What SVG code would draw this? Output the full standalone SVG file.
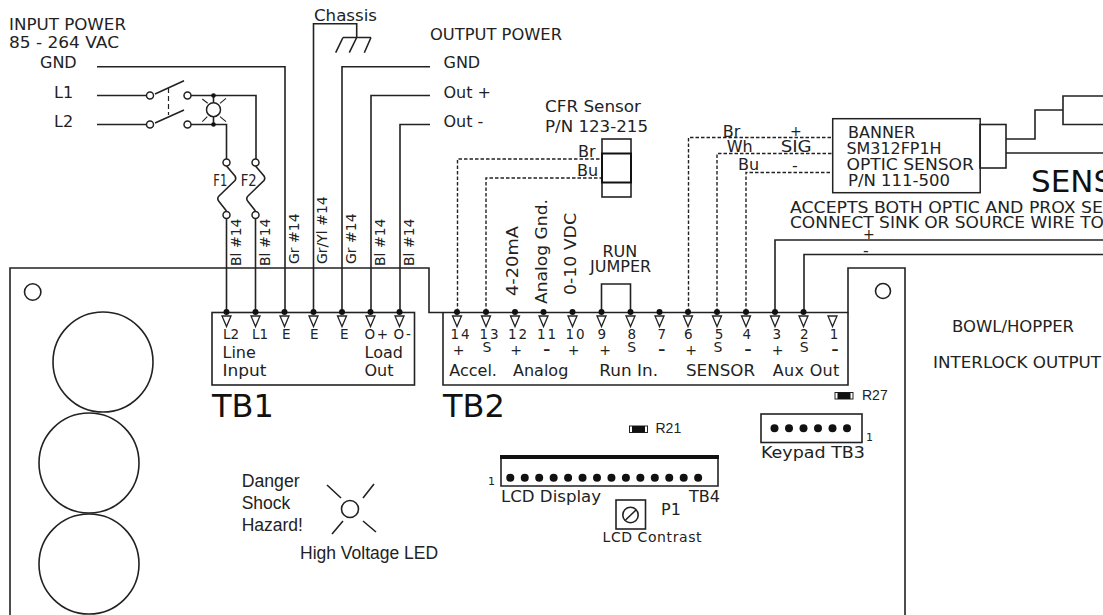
<svg xmlns="http://www.w3.org/2000/svg" width="1103" height="615" viewBox="0 0 1103 615">
<style>
text{font-family:"DejaVu Sans",Verdana,sans-serif;font-size:16px;fill:#222}
.a{font-family:"Liberation Sans",Arial,sans-serif;font-size:17.500px}
.r{font-family:"Liberation Sans",Arial,sans-serif;font-size:14px}
.big{font-size:32px;fill:#111}
.s{font-size:13.500px}
.v{font-size:14px}
.sym{font-size:14px}
.b{font-size:14px;font-weight:bold}
.w{fill:none;stroke:#222;stroke-width:1.6}
.d{fill:none;stroke:#222;stroke-width:1.4;stroke-dasharray:3.5 2}
.f{fill:#fff;stroke:#222;stroke-width:1.5}
.k{fill:#111}
</style>
<defs>
<path id="tri" d="M-4.500 4H4.500L0 14.500Z" fill="#fff" stroke="#222" stroke-width="1.3"/>
<g id="pin"><circle cx="0" cy="0" r="3" class="k"/><use href="#tri"/></g>
<path id="fuse" d="M0 3.500L8.500 13.500Q10 16 8.500 18L-7.500 33.500Q-10 36 -7.500 39L0 48.500" fill="none" stroke="#222" stroke-width="1.6"/>
<g id="res"><rect x="0" y="0" width="18" height="6.500" fill="#fff" stroke="#222" stroke-width="1"/><rect x="2.500" y="0" width="13" height="6.500" class="k"/></g>
</defs>
<g id="board"><path class="w" d="M10 615V268H429V312.500H848V268H905V615"/><path class="w" d="M848 312.500V385H443V312.500"/><circle class="w" cx="32.700" cy="292" r="8.200"/><circle class="w" cx="883" cy="291" r="7.500"/><circle class="w" cx="103" cy="362" r="50"/><circle class="w" cx="89" cy="463" r="50"/><circle class="w" cx="89" cy="564" r="50"/></g>
<g id="connectors">
<path class="w" d="M97 66.700H285V312"/>
<path class="w" d="M97 95.500H146.500M155 94L184 80.700M191 95.500H256V159"/>
<path class="w" d="M97 124.500H146.500M155 123L184 110M191 124.500H226.500V159"/>
<path d="M168.500 88V115" fill="none" stroke="#222" stroke-width="1.2" stroke-dasharray="5 3"/>
<path class="w" d="M226.500 218.500V312M255.500 218.500V312"/>
<path class="w" d="M313.500 312V23.700H356.700V37.500M343 37.500H371M343 37.500L335.700 52.700M356.700 37.500L349.300 52.700M371 37.500L364.300 52.700"/>
<path class="w" d="M342 312V66.700H430M371 312V95.500H430M400 312V124.500H430"/>
<path class="w" d="M601.500 312V284H630.500V312"/>
<path class="d" d="M457.500 312V159H602M486 312V178H602"/>
<path class="d" d="M688.500 312V137.500H832M717 312V153.500H832M746 312V172.500H832"/>
<path class="w" d="M775 312V240H1103M804 312V254.500H1103"/>
<path class="w" d="M1006 139H1035V110H1063M1006 153H1103"/>
</g>
<g id="input-labels">
<text x="9" y="30" textLength="117" lengthAdjust="spacingAndGlyphs">INPUT POWER</text><text x="9" y="48" textLength="110" lengthAdjust="spacingAndGlyphs">85 - 264 VAC</text>
<text x="40" y="68">GND</text><text x="54" y="98">L1</text><text x="54" y="126.500">L2</text>
<text x="314" y="20.500" textLength="63" lengthAdjust="spacingAndGlyphs">Chassis</text>
<text x="430" y="40" textLength="132" lengthAdjust="spacingAndGlyphs">OUTPUT POWER</text>
<text x="443.500" y="68">GND</text><text x="443.500" y="98">Out +</text><text x="443.500" y="126.500">Out -</text>
</g>
<g id="switch"><circle class="f" cx="150" cy="95.500" r="3.500"/><circle class="f" cx="187.500" cy="95.500" r="3.500"/><circle class="f" cx="150" cy="124.500" r="3.500"/><circle class="f" cx="187.500" cy="124.500" r="3.500"/></g>
<g id="led"><path class="w" d="M213.500 95.500V124.500"/><circle class="f" cx="213.500" cy="109.700" r="7"/><circle class="k" cx="213.500" cy="95.500" r="2.300"/><circle class="k" cx="213.500" cy="124.500" r="2.300"/><path d="M202.300 99L207.700 103.300M226 98.300L220 103.300M202.300 121.700L207.300 116.700M226 121.700L220 116.700" stroke="#222" stroke-width="1.1"/></g>
<g id="F1"><circle class="f" cx="226.500" cy="162.500" r="3.500"/><circle class="f" cx="226.500" cy="215" r="3.500"/><use href="#fuse" x="226.500" y="162.500"/><text x="213.300" y="185.500" style="font-size:15px" textLength="14" lengthAdjust="spacingAndGlyphs">F1</text></g>
<g id="F2"><circle class="f" cx="255.500" cy="162.500" r="3.500"/><circle class="f" cx="255.500" cy="215" r="3.500"/><use href="#fuse" x="255.500" y="162.500"/><text x="240.700" y="185.500" style="font-size:15px" textLength="16" lengthAdjust="spacingAndGlyphs">F2</text></g>
<g id="wire-labels">
<text class="v" transform="translate(241 266) rotate(-90)">Bl #14</text>
<text class="v" transform="translate(270 266) rotate(-90)">Bl #14</text>
<text class="v" transform="translate(299 264) rotate(-90)">Gr #14</text>
<text class="v" transform="translate(327 264) rotate(-90)">Gr/Yl #14</text>
<text class="v" transform="translate(356 264) rotate(-90)">Gr #14</text>
<text class="v" transform="translate(385 266) rotate(-90)">Bl #14</text>
<text class="v" transform="translate(414 266) rotate(-90)">Bl #14</text>
<text transform="translate(518 296) rotate(-90)" textLength="70" lengthAdjust="spacingAndGlyphs">4-20mA</text>
<text transform="translate(547 304) rotate(-90)" textLength="105" lengthAdjust="spacingAndGlyphs">Analog Gnd.</text>
<text transform="translate(576 295) rotate(-90)" textLength="82" lengthAdjust="spacingAndGlyphs">0-10 VDC</text>
<text x="602.500" y="256.700">RUN</text><text x="590" y="271.700">JUMPER</text>
</g>
<g id="CFR"><text x="545" y="112.300" textLength="96" lengthAdjust="spacingAndGlyphs">CFR Sensor</text><text x="545" y="131.500" textLength="103" lengthAdjust="spacingAndGlyphs">P/N 123-215</text><text x="578" y="157">Br</text><text x="577" y="176">Bu</text><rect class="w" x="602" y="139" width="29" height="58"/><rect x="602" y="153.500" width="29" height="29" fill="none" stroke="#111" stroke-width="2"/></g>
<g id="banner"><rect class="f" x="832.700" y="118.700" width="147.500" height="74"/><rect class="w" x="980" y="124.500" width="26" height="43.500"/>
<text x="848" y="138.300">BANNER</text><text x="846.500" y="154" textLength="95" lengthAdjust="spacingAndGlyphs">SM312FP1H</text><text x="846.500" y="170" textLength="127.500" lengthAdjust="spacingAndGlyphs">OPTIC SENSOR</text><text x="848" y="186" textLength="102" lengthAdjust="spacingAndGlyphs">P/N 111-500</text>
<text x="722.700" y="136.500">Br</text><text x="726.700" y="151.700">Wh</text><text x="738" y="170">Bu</text><text x="790" y="135.500" style="font-size:14px">+</text><text x="780.700" y="151.700" textLength="31" lengthAdjust="spacingAndGlyphs">SIG</text><text x="792" y="171">-</text></g>
<g id="sensor-right"><path class="w" d="M1103 96H1063V124.500H1103"/><text class="big" x="1031" y="191.500" style="font-size:31px">SENS</text>
<text x="790" y="212.700" textLength="313" lengthAdjust="spacingAndGlyphs">ACCEPTS BOTH OPTIC AND PROX SE</text><text x="790" y="227.700" textLength="314" lengthAdjust="spacingAndGlyphs">CONNECT SINK OR SOURCE WIRE TO</text>
<text x="863" y="239" style="font-size:14px">+</text><text x="863" y="256">-</text></g>
<g id="TB1"><rect class="w" x="212" y="312.500" width="202.500" height="72.500"/>
<use href="#pin" x="226.500" y="312"/><use href="#pin" x="255.500" y="312"/><use href="#pin" x="284.500" y="312"/><use href="#pin" x="313.500" y="312"/><use href="#pin" x="342" y="312"/><use href="#pin" x="370.500" y="312"/><use href="#pin" x="399.500" y="312"/>
<text class="s" x="223" y="339.300">L2</text><text class="s" x="252" y="339.300">L1</text><text class="s" x="282" y="339.300">E</text><text class="s" x="310" y="339.300">E</text><text class="s" x="340" y="339.300">E</text><text class="s" x="364.500" y="339.300" letter-spacing="1.500">O+</text><text class="s" x="393.500" y="339.300" letter-spacing="1.500">O-</text>
<text x="222.500" y="357.700">Line</text><text x="222.500" y="376" textLength="44" lengthAdjust="spacingAndGlyphs">Input</text><text x="364.500" y="357.700">Load</text><text x="364.500" y="376">Out</text>
<text class="big" x="212" y="417">TB1</text></g>
<g id="TB2">
<use href="#pin" x="457" y="312"/><use href="#pin" x="486" y="312"/><use href="#pin" x="515" y="312"/><use href="#pin" x="543.500" y="312"/><use href="#pin" x="572.500" y="312"/><use href="#pin" x="601.500" y="312"/><use href="#pin" x="630.500" y="312"/><use href="#pin" x="659.500" y="312"/><use href="#pin" x="688" y="312"/><use href="#pin" x="717" y="312"/><use href="#pin" x="746" y="312"/><use href="#pin" x="775" y="312"/><use href="#pin" x="803.500" y="312"/><use href="#tri" x="832.500" y="312"/>
<g text-anchor="middle"><text class="s" x="461" y="339.300" letter-spacing="2">14</text><text class="s" x="490" y="339.300" letter-spacing="2">13</text><text class="s" x="518.500" y="339.300" letter-spacing="2">12</text><text class="s" x="547.500" y="339.300" letter-spacing="2">11</text><text class="s" x="576" y="339.300" letter-spacing="2">10</text><text class="s" x="601.700" y="339.300">9</text><text class="s" x="631.700" y="339.300">8</text><text class="s" x="661.700" y="339.300">7</text><text class="s" x="688.300" y="339.300">6</text><text class="s" x="719" y="339.300">5</text><text class="s" x="746.700" y="339.300">4</text><text class="s" x="776.700" y="339.300">3</text><text class="s" x="804.300" y="339.300">2</text><text class="s" x="834" y="339.300">1</text>
<text class="sym" x="458.500" y="354.500">+</text><text class="sym" x="487" y="352">S</text><text class="sym" x="516" y="354.500">+</text><text class="b" x="546.700" y="353.500">–</text><text class="sym" x="573.500" y="354.500">+</text><text class="sym" x="605" y="354.500">+</text><text class="sym" x="631.700" y="352">S</text><text class="b" x="661.700" y="353.500">–</text><text class="sym" x="691" y="354.500">+</text><text class="sym" x="718" y="352">S</text><text class="b" x="748" y="353.500">–</text><text class="sym" x="777.700" y="354.500">+</text><text class="sym" x="804.300" y="352">S</text><text class="b" x="835" y="353.500">–</text></g>
<text x="449.300" y="376">Accel.</text><text x="513" y="376">Analog</text><text x="599.300" y="376" textLength="58.700" lengthAdjust="spacingAndGlyphs">Run In.</text><text x="686" y="376" textLength="69" lengthAdjust="spacingAndGlyphs">SENSOR</text><text x="772.700" y="376" textLength="66.600" lengthAdjust="spacing">Aux Out</text>
<text class="big" x="443" y="417">TB2</text></g>
<g id="R27"><use href="#res" x="835" y="392.500"/><text class="r" x="862" y="400">R27</text></g>
<g id="R21"><use href="#res" x="629.500" y="426"/><text class="r" x="655.500" y="433">R21</text></g>
<g id="TB3"><rect class="w" x="761" y="414" width="101" height="28.500"/>
<g class="k"><circle cx="774.500" cy="428.300" r="4"/><circle cx="789" cy="428.300" r="4"/><circle cx="803.500" cy="428.300" r="4"/><circle cx="818" cy="428.300" r="4"/><circle cx="832.500" cy="428.300" r="4"/><circle cx="847" cy="428.300" r="4"/></g>
<text class="s" style="font-size:11px" x="866" y="441">1</text><text x="761" y="458" textLength="104" lengthAdjust="spacingAndGlyphs">Keypad  TB3</text></g>
<g id="TB4"><path class="w" d="M501 457V486H718V457"/><path d="M500 457H719" stroke="#111" stroke-width="4" fill="none"/>
<g class="k"><circle cx="510.300" cy="477.700" r="4"/><circle cx="524.750" cy="477.700" r="4"/><circle cx="539.200" cy="477.700" r="4"/><circle cx="553.650" cy="477.700" r="4"/><circle cx="568.100" cy="477.700" r="4"/><circle cx="582.550" cy="477.700" r="4"/><circle cx="597" cy="477.700" r="4"/><circle cx="611.450" cy="477.700" r="4"/><circle cx="625.900" cy="477.700" r="4"/><circle cx="640.350" cy="477.700" r="4"/><circle cx="654.800" cy="477.700" r="4"/><circle cx="669.250" cy="477.700" r="4"/><circle cx="683.700" cy="477.700" r="4"/><circle cx="698.150" cy="477.700" r="4"/></g>
<text class="s" style="font-size:11px" x="488" y="485">1</text><text x="501" y="502" textLength="100" lengthAdjust="spacingAndGlyphs">LCD Display</text><text x="689" y="502" textLength="31" lengthAdjust="spacingAndGlyphs">TB4</text></g>
<g id="P1"><rect class="w" x="616" y="500" width="29.500" height="29"/><circle class="w" cx="630.500" cy="515" r="7.700"/><path class="w" d="M625.500 520L636 510"/><text x="661" y="515">P1</text><text class="v" x="602.500" y="542" textLength="99">LCD Contrast</text></g>
<g id="hv-led"><circle class="w" cx="350" cy="509" r="8.500"/><path class="w" d="M327 485L341 498M374 484L363 498M343 521L332 534M363 521L376 532"/><text class="a" x="241.700" y="487" textLength="58" lengthAdjust="spacingAndGlyphs">Danger</text><text class="a" x="241.700" y="509">Shock</text><text class="a" x="241.700" y="530.500">Hazard!</text><text class="a" x="300" y="559">High Voltage LED</text></g>
<g id="bowl"><text x="952" y="332" textLength="122" lengthAdjust="spacingAndGlyphs">BOWL/HOPPER</text><text x="933" y="368" textLength="168" lengthAdjust="spacingAndGlyphs">INTERLOCK OUTPUT</text></g>
</svg>
